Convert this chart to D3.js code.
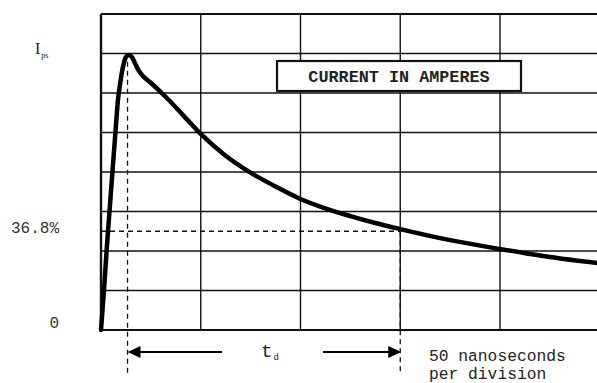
<!DOCTYPE html>
<html>
<head>
<meta charset="utf-8">
<script src="https://cdn.jsdelivr.net/npm/d3@7"></script>
<style>
  html, body { margin: 0; padding: 0; background: #fff; }
  svg { display: block; }
</style>
</head>
<body>
<div id="chart"></div>
<script>
// time in ns, current in % of Ips
const timeNs = [0, 1.5, 3, 4.5, 6, 7.5, 8.5, 9.5, 10.5, 11.5, 12.5, 14, 15.5, 17, 19, 21, 24.5, 33, 42, 50, 62, 74.5, 87, 100, 112, 125, 137.5, 150, 175, 200, 225, 249];
const currentPct = [0, 14.5, 30.7, 45.2, 59.7, 74.1, 83.2, 88.6, 93.3, 96.6, 98.7, 99.5, 98.7, 96.6, 93.7, 91.9, 89.7, 83.9, 77.0, 70.9, 63.3, 57.1, 52.1, 47.4, 44.1, 41.2, 38.7, 36.5, 32.5, 29.3, 26.4, 24.2];

const xTicks = [0, 50, 100, 150, 200, 250];     // 50 ns per division
const yDivisions = [0, 1, 2, 3, 4, 5, 6, 7, 8]; // Ips sits on the 7th line
const yLabels = [{ text: '0', value: 0, dy: -2 }, { text: '36.8%', value: 36.8, dy: 5 }];
const tPeak = 13.8;
const tDecay = 150;
const decayLevel = 36.8;

const width = 597, height = 383;
const mono = 'Liberation Mono, DejaVu Sans Mono, monospace';

const svg = d3.select('#chart').append('svg')
  .attr('width', width).attr('height', height);

const x = d3.scaleLinear().domain([0, 250]).range([101, 599.75]);
const y = d3.scaleLinear().domain([0, 100]).range([330, 53.5]);
const divPct = 100 / 7;

const grid = svg.append('g');

grid.selectAll('line.h').data(yDivisions).join('line')
  .attr('class', 'h')
  .attr('x1', x(0)).attr('x2', width)
  .attr('y1', d => y(d * divPct)).attr('y2', d => y(d * divPct))
  .attr('stroke', '#111')
  .attr('stroke-width', d => (d === 0 || d === 8) ? 2.2 : 1.4);

grid.selectAll('line.v').data(xTicks).join('line')
  .attr('class', 'v')
  .attr('x1', d => x(d)).attr('x2', d => x(d))
  .attr('y1', y(8 * divPct)).attr('y2', y(0))
  .attr('stroke', '#111')
  .attr('stroke-width', d => d === 0 ? 2.4 : 1.4);

// dashed guides
const dash = svg.append('g')
  .attr('stroke', '#111').attr('stroke-width', 1.3)
  .attr('stroke-dasharray', '5,4').attr('fill', 'none');

dash.append('line')
  .attr('x1', x(tPeak) - 1).attr('x2', x(tPeak) - 1)
  .attr('y1', y(97)).attr('y2', 376);
dash.append('line')
  .attr('x1', x(0)).attr('x2', x(tDecay))
  .attr('y1', y(decayLevel) + 3).attr('y2', y(decayLevel) + 3);
dash.append('line')
  .attr('x1', x(tDecay)).attr('x2', x(tDecay))
  .attr('y1', y(decayLevel) + 3).attr('y2', 372);

// waveform
const line = d3.line()
  .x(d => x(d[0]))
  .y(d => y(d[1]))
  .curve(d3.curveMonotoneX);

svg.append('path')
  .datum(d3.zip(timeNs, currentPct))
  .attr('d', line)
  .attr('fill', 'none')
  .attr('stroke', '#000')
  .attr('stroke-width', 4.5)
  .attr('stroke-linejoin', 'round')
  .attr('stroke-linecap', 'round');

// label box
svg.append('rect')
  .attr('x', 277).attr('y', 61).attr('width', 244).attr('height', 30)
  .attr('fill', '#fff').attr('stroke', '#111').attr('stroke-width', 2.2);
svg.append('text')
  .attr('x', 399).attr('y', 82)
  .attr('text-anchor', 'middle')
  .attr('font-family', mono)
  .attr('font-weight', 'bold').attr('font-size', 16.8)
  .attr('fill', '#222')
  .text('CURRENT IN AMPERES');

// y labels
svg.append('text')
  .attr('x', 35).attr('y', 54)
  .attr('font-family', 'Liberation Serif, serif')
  .attr('font-size', 16).attr('fill', '#222')
  .text('I')
  .append('tspan')
  .attr('font-size', 8).attr('dy', 4).attr('dx', 1)
  .text('ps');

svg.selectAll('text.ylab').data(yLabels).join('text')
  .attr('class', 'ylab')
  .attr('x', 59)
  .attr('y', d => y(d.value) + d.dy)
  .attr('text-anchor', 'end')
  .attr('font-family', mono)
  .attr('font-size', 16).attr('fill', '#333')
  .text(d => d.text);

// td arrows
const ay = 352;
const arrows = svg.append('g').attr('stroke', '#000').attr('stroke-width', 2);
arrows.append('line').attr('x1', x(tPeak) + 10).attr('x2', 222).attr('y1', ay).attr('y2', ay);
arrows.append('line').attr('x1', 323).attr('x2', x(tDecay) - 10).attr('y1', ay).attr('y2', ay);

svg.append('path')
  .attr('d', d3.line()([[x(tPeak) - 1, ay], [x(tPeak) + 12, ay - 6], [x(tPeak) + 12, ay + 6]]) + 'Z')
  .attr('fill', '#000');
svg.append('path')
  .attr('d', d3.line()([[x(tDecay) + 1, ay], [x(tDecay) - 12, ay - 6], [x(tDecay) - 12, ay + 6]]) + 'Z')
  .attr('fill', '#000');

svg.append('text')
  .attr('x', 261).attr('y', 357)
  .attr('font-family', mono)
  .attr('font-size', 19).attr('fill', '#222')
  .text('t')
  .append('tspan')
  .attr('font-size', 9).attr('dy', 3).attr('dx', 1)
  .text('d');

// two separate text lines, spaced so their boxes do not touch
svg.selectAll('text.note').data(['50 nanoseconds', 'per division']).join('text')
  .attr('class', 'note')
  .attr('x', 429).attr('y', (d, i) => i ? 379 : 361)
  .attr('font-family', mono)
  .attr('font-size', 16.3).attr('fill', '#222')
  .text(d => d);
</script>
</body>
</html>
